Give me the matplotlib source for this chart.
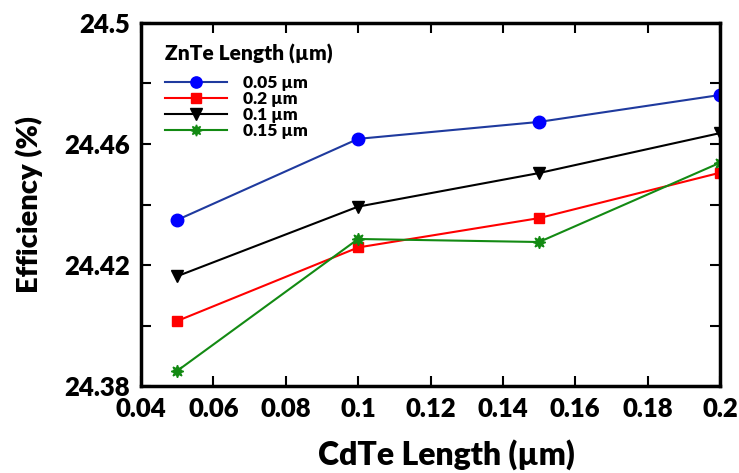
import matplotlib
matplotlib.use("Agg")
import matplotlib.pyplot as plt
from matplotlib.ticker import MultipleLocator, FixedLocator, FuncFormatter

plt.rcParams['font.family'] = ['Lato', 'DejaVu Sans']

cdte = [0.05, 0.1, 0.15, 0.2]
eff_005 = [24.4349, 24.4617, 24.4673, 24.4762]
eff_02 = [24.4015, 24.4258, 24.4355, 24.4505]
eff_01 = [24.4163, 24.4393, 24.4504, 24.4636]
eff_015 = [24.3850, 24.4286, 24.4276, 24.4538]
labels = ['0.05 µm', '0.2 µm', '0.1 µm', '0.15 µm']
y_major = [24.38, 24.42, 24.46, 24.5]
y_minor = [24.40, 24.44, 24.48]

fig = plt.figure(figsize=(7.39, 4.73), dpi=100)
ax = fig.add_axes([0.1908, 0.1839, 0.7835, 0.7675])

ax.plot(cdte, eff_005, color='#1f3a9e', lw=1.5, marker='o', ms=9,
        mfc='#0000ff', mec='#0000ff', label=labels[0])
ax.plot(cdte, eff_02, color='#ff0000', lw=1.5, marker='s', ms=7.5,
        mfc='#ff0000', mec='#ff0000', label=labels[1])
ax.plot(cdte, eff_01, color='#000000', lw=1.5, marker='v', ms=9,
        mfc='#000000', mec='#000000', label=labels[2])
ax.plot(cdte, eff_015, color='#138a13', lw=1.5, marker=(8, 1, 0), ms=9,
        mfc='#138a13', mec='#138a13', label=labels[3])

ax.set_xlim(0.04, 0.2)
ax.set_ylim(24.38, 24.5)
ax.xaxis.set_major_locator(MultipleLocator(0.02))
ax.yaxis.set_major_locator(FixedLocator(y_major))
ax.yaxis.set_minor_locator(FixedLocator(y_minor))
ax.xaxis.set_major_formatter(FuncFormatter(lambda v, p: f"{round(v, 2):g}"))
ax.yaxis.set_major_formatter(FuncFormatter(lambda v, p: f"{round(v, 2):g}"))

ax.tick_params(which='both', direction='in', top=True, right=True, width=1.5)
ax.tick_params(which='major', length=7, labelsize=18.5, pad=8)
ax.tick_params(which='minor', length=7)
for lab in ax.get_xticklabels() + ax.get_yticklabels():
    lab.set_fontweight('heavy')
for s in ax.spines.values():
    s.set_linewidth(2.5)

ax.set_xlabel('CdTe Length (µm)', fontsize=23, fontweight='heavy')
ax.xaxis.set_label_coords(0.527, -0.145)
ax.set_ylabel('Efficiency (%)', fontsize=21, fontweight='heavy')
ax.yaxis.set_label_coords(-0.17, 0.5)

leg = ax.legend(title='ZnTe Length (µm)', loc='upper left', bbox_to_anchor=(0.02, 0.975),
                frameon=False, prop={'size': 12.5, 'weight': 'heavy'},
                title_fontproperties={'size': 15, 'weight': 'heavy'},
                handlelength=3.6, labelspacing=0.0, borderpad=0.2, handletextpad=0.9,
                markerscale=0.9)
leg._legend_box.align = 'left'
leg._legend_box.sep = 8

fig.savefig('out.png', dpi=100)
